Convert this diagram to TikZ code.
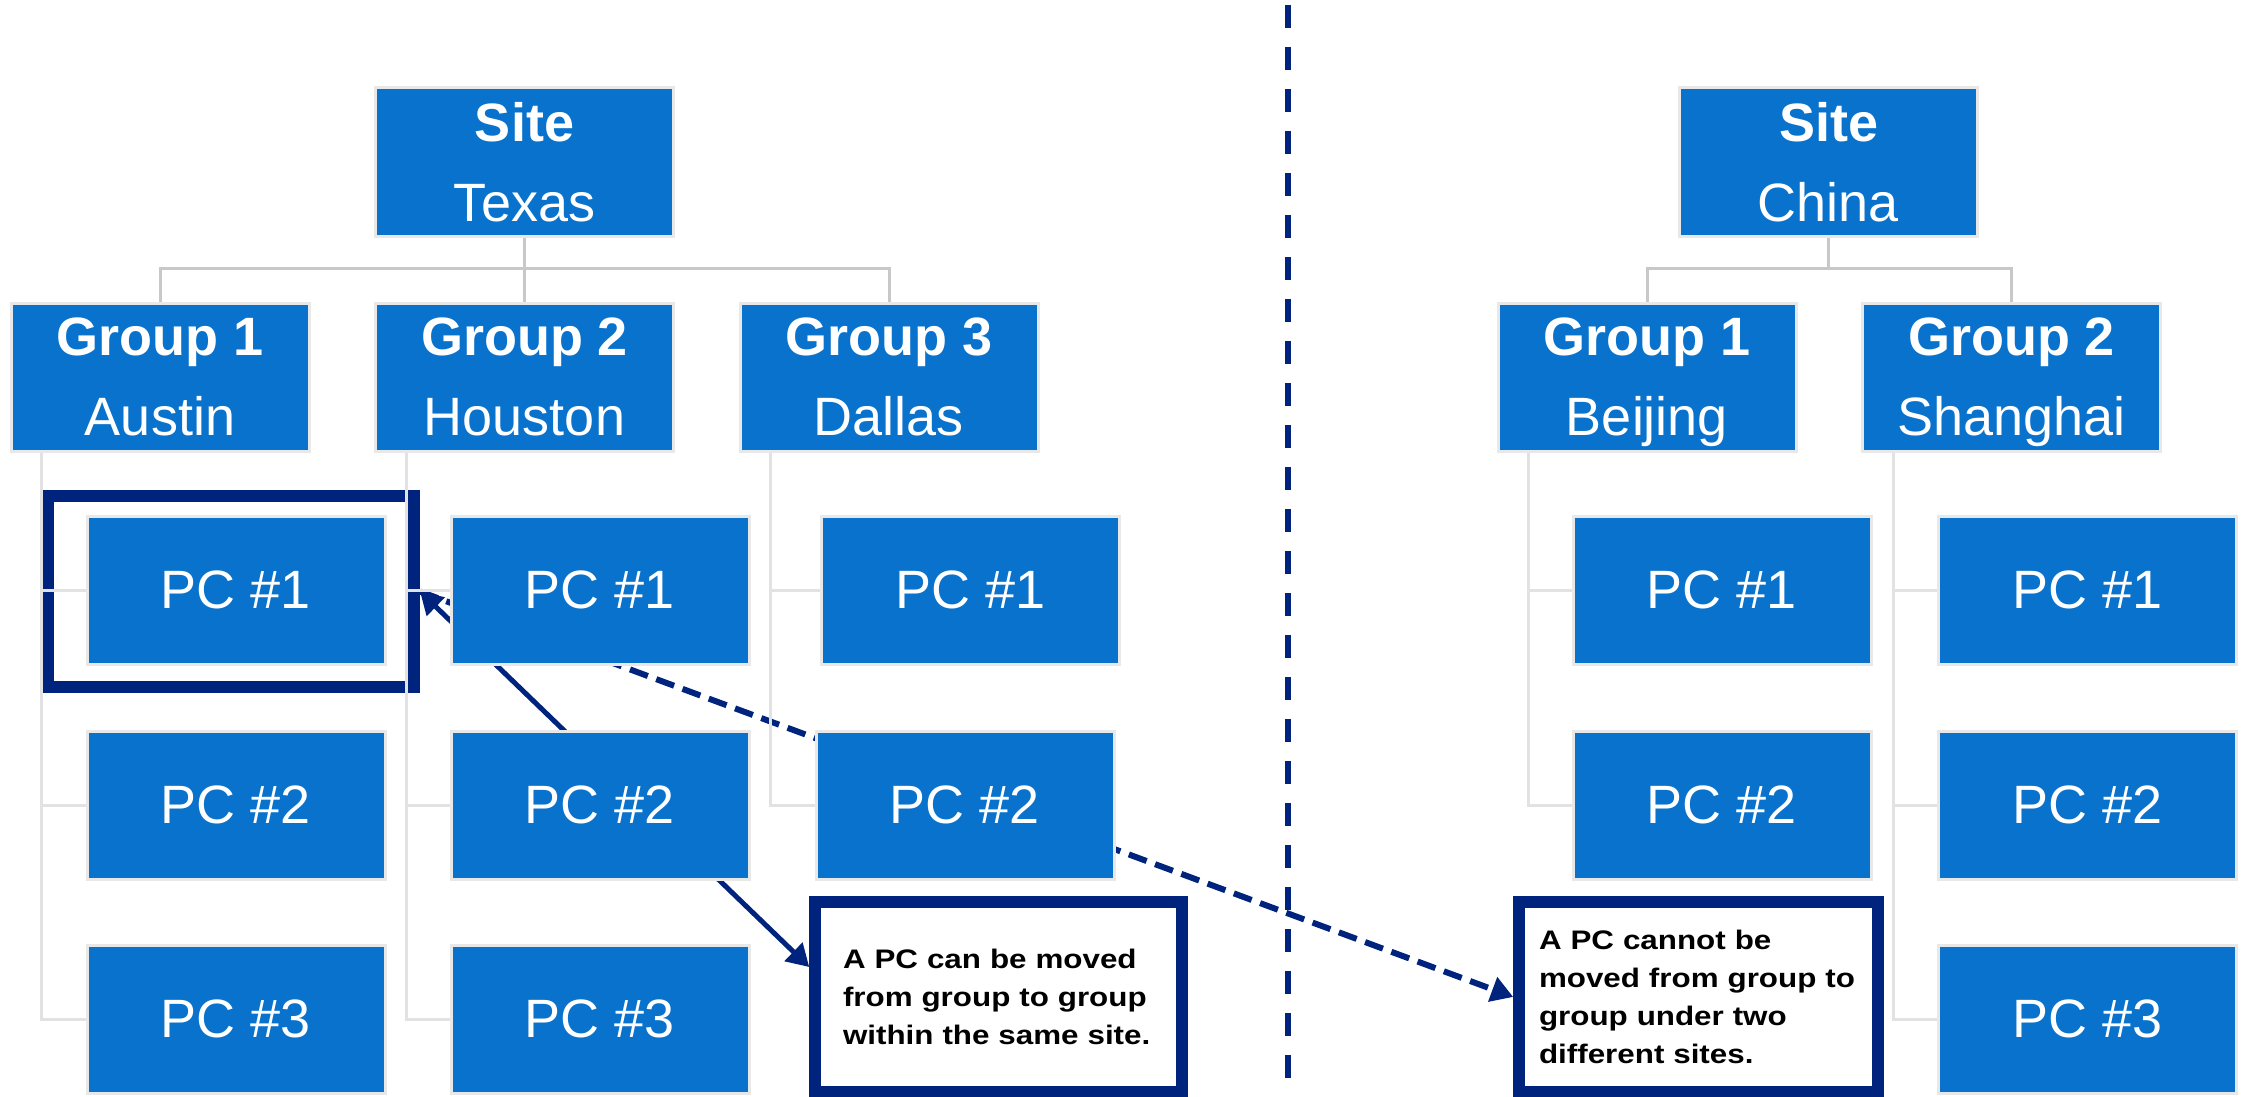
\documentclass[tikz,border=0pt]{standalone}
\usepackage{fontspec}
\setmainfont{Liberation Sans}
\newfontfamily\notefont[FakeStretch=1.17]{Liberation Sans}
\usetikzlibrary{arrows.meta}
\definecolor{boxblue}{RGB}{8,114,204}
\definecolor{navy}{RGB}{0,35,125}
\definecolor{linkgray}{RGB}{200,200,200}
\definecolor{treegray}{RGB}{226,226,226}
\definecolor{edgegray}{RGB}{232,232,232}
\pgfdeclarelayer{arrowlayer}
\pgfdeclarelayer{hllayer}
\pgfdeclarelayer{treelayer}
\pgfsetlayers{arrowlayer,hllayer,treelayer,main}
\begin{document}
\begin{tikzpicture}[x=1pt,y=-1pt,
  box/.style={fill=boxblue, draw=edgegray, line width=3pt, text=white,
    minimum width=298pt, minimum height=148pt, inner sep=0pt, align=center,
    text depth=0pt, font=\fontsize{54}{80}\selectfont},
  note/.style={draw=navy, line width=11.5pt, fill=white, minimum height=190pt,
    inner sep=0pt, align=left, text=black,
    font=\notefont\bfseries\fontsize{26.8}{38}\selectfont},
  hlbox/.style={draw=navy, line width=12pt, minimum width=366pt, minimum height=191pt, inner sep=0pt},
  link/.style={draw=linkgray, line width=3pt},
  tree/.style={draw=treegray, line width=3pt},
  arrowline/.style={draw=navy, line width=5pt},
]
\useasboundingbox (0,0) rectangle (2241,1097);

% ---------- Texas ----------
\node[box] (s1) at (524.5,162) {\bfseries Site\\Texas};
\node[box] (g1) at (160,377) {\bfseries Group 1\\Austin};
\node[box] (g2) at (524.5,377) {\bfseries Group 2\\Houston};
\node[box] (g3) at (889,377) {\bfseries Group 3\\Dallas};

\node[box] (a1) at (236,590) {PC \#1};
\node[box] (a2) at (236,805) {PC \#2};
\node[box] (a3) at (236,1019) {PC \#3};
\node[box] (h1) at (600,590) {PC \#1};
\node[box] (h2) at (600,805) {PC \#2};
\node[box] (h3) at (600,1019) {PC \#3};
\node[box] (d1) at (970.5,590) {PC \#1};
\node[box] (d2) at (965,805) {PC \#2};

% ---------- China ----------
\node[box] (s2) at (1828.5,162) {\bfseries Site\\China};
\node[box] (bj) at (1647,377) {\bfseries Group 1\\Beijing};
\node[box] (sh) at (2011.5,377) {\bfseries Group 2\\Shanghai};

\node[box] (b1) at (1722,590) {PC \#1};
\node[box] (b2) at (1722,805) {PC \#2};
\node[box] (q1) at (2087.5,590) {PC \#1};
\node[box] (q2) at (2087.5,805) {PC \#2};
\node[box] (q3) at (2087.5,1019) {PC \#3};

% ---------- notes ----------
\node[note, minimum width=367pt, text width=311pt] (note1) at (998.5,997)
  {A PC can be moved\\from group to group\\within the same site.};
\node[note, minimum width=359pt, text width=319pt] (note2) at (1698.5,997)
  {A PC cannot be\\moved from group to\\group under two\\different sites.};

% ---------- site to group links ----------
\draw[link] (s1.south) -- ++(0,30.5) -| (g1.north);
\draw[link] (s1.south) -- (g2.north);
\draw[link] (s1.south) -- ++(0,30.5) -| (g3.north);
\draw[link] (s2.south) -- ++(0,30.5) -| (bj.north);
\draw[link] (s2.south) -- ++(0,30.5) -| (sh.north);

% ---------- highlight ----------
\begin{pgfonlayer}{hllayer}
\node[hlbox] (hl) at (231,591.5) {};
\end{pgfonlayer}

% ---------- tree lines ----------
\begin{pgfonlayer}{treelayer}
\foreach \g/\p in {g1/a1,g1/a2,g1/a3,g2/h1,g2/h2,g2/h3,g3/d1,g3/d2,bj/b1,bj/b2,sh/q1,sh/q2,sh/q3}
  \draw[tree] ([xshift=32pt]\g.south west) |- (\p.west);
\end{pgfonlayer}

% ---------- arrows and divider ----------
\coordinate (dvt) at (1288,5);
\coordinate (dvb) at (1288,1090);
\begin{pgfonlayer}{arrowlayer}
\draw[navy, line width=6pt, dash pattern=on 23pt off 19pt] (dvt) -- (dvb);
\draw[arrowline, {Triangle[length=22pt,width=25pt]}-{Triangle[length=22pt,width=25pt]}]
  (hl.east) -- (note1.171);
\draw[arrowline, line width=6pt, dash pattern=on 19pt off 9pt, -{Triangle[length=22pt,width=25pt]}]
  (hl.east) -- (note2.west);
\end{pgfonlayer}
\end{tikzpicture}
\end{document}
